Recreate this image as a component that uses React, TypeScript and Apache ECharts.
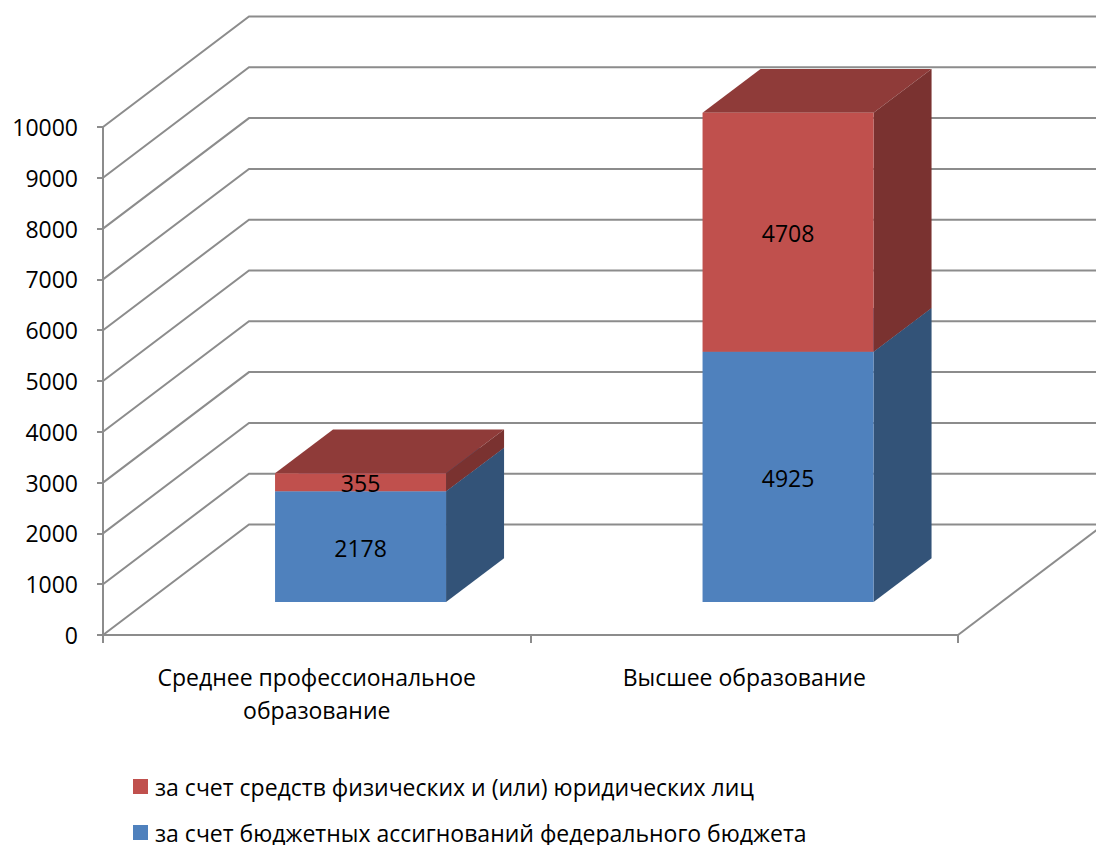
import React, { useEffect, useRef } from "react";
import * as echarts from "echarts";

const categories = ["Среднее профессиональное\nобразование", "Высшее образование"];
const federal = [2178, 4925];
const personal = [355, 4708];
const federalName = "за счет бюджетных ассигнований федерального бюджета";
const personalName = "за счет средств физических и (или) юридических лиц";
const yTicks = [0, 1000, 2000, 3000, 4000, 5000, 6000, 7000, 8000, 9000, 10000];

const FONT = "'Open Sans', sans-serif";
const WALL_DX = 146;
const WALL_DY = -110.5;
const FRONT_DX = 43.8;
const FRONT_DY = -33;
const BAR_DX = 58;
const BAR_DY = -43.7;
const LINE = "#8c8c8c";

function wallRender(params: any, api: any) {
  const v = api.value(0);
  const c = params.coordSys;
  const y = api.coord([0, v])[1];
  const x0 = c.x;
  const x1 = c.x + c.width;
  const children: any[] = [
    {
      type: "polyline",
      shape: {
        points: [
          [x0, y],
          [x0 + WALL_DX, y + WALL_DY],
          [x1 + WALL_DX, y + WALL_DY],
        ],
      },
      style: { stroke: LINE, lineWidth: 2, fill: "none" },
    },
  ];
  if (v === 0) {
    children.push({
      type: "line",
      shape: { x1, y1: y, x2: x1 + WALL_DX, y2: y + WALL_DY },
      style: { stroke: LINE, lineWidth: 2 },
    });
  }
  return { type: "group", children };
}

function barRender(base: number[], colors: { front: string; side: string; top: string }) {
  return (params: any, api: any) => {
    const i = params.dataIndex;
    const v = api.value(1);
    const b = base[i];
    const w = api.size([1, 0])[0] * 0.4;
    const cx = api.coord([i, 0])[0] + FRONT_DX;
    const yb = api.coord([i, b])[1] + FRONT_DY;
    const yt = api.coord([i, b + v])[1] + FRONT_DY;
    const xl = cx - w / 2;
    const xr = cx + w / 2;
    return {
      type: "group",
      children: [
        {
          type: "polygon",
          shape: {
            points: [
              [xl, yt],
              [xr, yt],
              [xr + BAR_DX, yt + BAR_DY],
              [xl + BAR_DX, yt + BAR_DY],
            ],
          },
          style: { fill: colors.top },
        },
        {
          type: "polygon",
          shape: {
            points: [
              [xr, yt],
              [xr + BAR_DX, yt + BAR_DY],
              [xr + BAR_DX, yb + BAR_DY],
              [xr, yb],
            ],
          },
          style: { fill: colors.side },
        },
        {
          type: "rect",
          shape: { x: xl, y: yt, width: w, height: yb - yt },
          style: { fill: colors.front },
        },
        {
          type: "text",
          x: cx,
          y: (yt + yb) / 2 + 1,
          style: {
            text: String(v),
            fill: "#000",
            font: `23px ${FONT}`,
            align: "center",
            verticalAlign: "middle",
          },
        },
      ],
    };
  };
}

export default function App() {
  const ref = useRef<HTMLDivElement>(null);
  useEffect(() => {
    document.body.style.margin = "0";
    const chart = echarts.init(ref.current!, undefined, { renderer: "svg" });
    chart.setOption({
      animation: false,
      backgroundColor: "#fff",
      textStyle: { fontFamily: FONT },
      grid: { left: 103, right: 138, top: 127, bottom: 210 },
      legend: {
        orient: "vertical",
        left: 128,
        top: 770,
        height: 120,
        itemWidth: 15,
        itemHeight: 15,
        itemGap: 23,
        icon: "rect",
        data: [personalName, federalName],
        textStyle: { fontFamily: FONT, fontSize: 23, color: "#000", padding: [0, 0, 0, 2] },
      },
      xAxis: {
        type: "category",
        data: categories,
        axisLine: { show: true, lineStyle: { color: LINE, width: 2 } },
        axisTick: { show: true, length: 8, lineStyle: { color: LINE, width: 2 } },
        axisLabel: { color: "#000", fontSize: 23, fontFamily: FONT, margin: 25, lineHeight: 33, interval: 0 },
      },
      yAxis: {
        type: "value",
        min: 0,
        max: 10000,
        interval: 1000,
        splitLine: { show: false },
        axisLine: { show: true, lineStyle: { color: LINE, width: 2 } },
        axisTick: { show: true, length: 6, lineStyle: { color: LINE, width: 2 } },
        axisLabel: { color: "#000", fontSize: 23, fontFamily: FONT, margin: 25, formatter: (v: number) => String(v) },
      },
      series: [
        {
          type: "custom",
          name: "walls",
          renderItem: wallRender,
          data: yTicks.map((v) => [v]),
          encode: { y: 0 },
          silent: true,
          z: 1,
        },
        {
          type: "custom",
          name: federalName,
          itemStyle: { color: "#4F81BD" },
          renderItem: barRender([0, 0], { front: "#4F81BD", side: "#335378", top: "#3F6797" }),
          data: federal.map((v, i) => [i, v]),
          encode: { x: 0, y: 1 },
          z: 2,
        },
        {
          type: "custom",
          name: personalName,
          itemStyle: { color: "#C0504D" },
          renderItem: barRender(federal, { front: "#C0504D", side: "#7A3230", top: "#8F3B39" }),
          data: personal.map((v, i) => [i, v]),
          encode: { x: 0, y: 1 },
          z: 3,
        },
      ],
    });
    return () => chart.dispose();
  }, []);
  return <div ref={ref} style={{ width: 1096, height: 845 }} />;
}
